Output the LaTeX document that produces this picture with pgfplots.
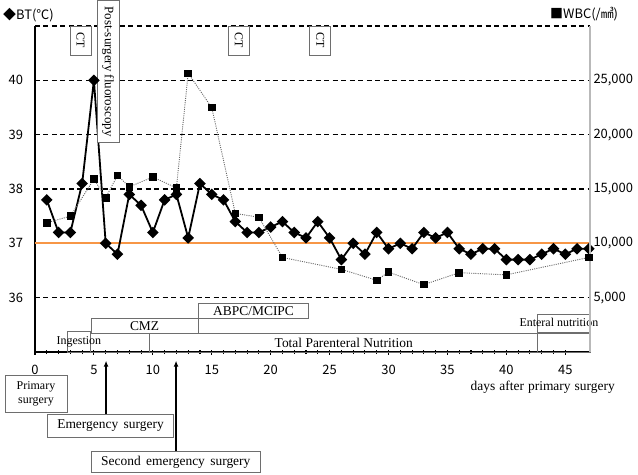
\documentclass[border=0pt]{standalone}
\usepackage{fontspec}
\setmainfont{Liberation Serif}
\newfontfamily\cjk{Noto Sans CJK JP}
\usepackage{pgfplots}
\pgfplotsset{compat=1.18}
\usetikzlibrary{arrows.meta}
\definecolor{orng}{RGB}{247,150,70}
\definecolor{bxc}{RGB}{110,110,110}
\definecolor{axg}{RGB}{185,185,185}
\newcommand\annf{\fontsize{13.5}{15}\selectfont}
\newcommand\smf{\fontsize{12}{13}\selectfont}
\begin{document}
\begin{tikzpicture}
\useasboundingbox (-35bp,-123bp) rectangle (603bp,352bp);
\begin{axis}[
  at={(0,0)}, anchor=south west, scale only axis,
  width=555bp, height=326bp,
  xmin=0, xmax=47.1, ymin=35, ymax=41,
  axis x line*=bottom, axis y line*=left,
  axis line style={line width=1.6bp, black, -},
  xtick={0,5,...,45}, minor x tick num=4,
  ytick={36,37,38,39,40,41}, yticklabels={36,37,38,39,40,{}},
  ytick style={draw=none},
  tick align=center, major tick length=5bp, minor tick length=4bp,
  x tick style={line width=1.1bp, black},
  ymajorgrids, grid style={black, line width=1.1bp, dash pattern=on 5bp off 3.5bp},
  tick label style={font=\cjk\fontsize{13}{14}\selectfont},
  /pgf/number format/assume math mode=true,
  xticklabel style={yshift=-7bp},
  yticklabel style={xshift=-6bp},
  clip=false,
]
\addplot[orng, line width=1.8bp, no marks] coordinates {(0,37) (47.1,37)};
\addplot[black, line width=1.8bp, mark=square*, mark size=3.2bp, mark options={rotate=45, solid}] coordinates {
(1,37.8) (2,37.2) (3,37.2) (4,38.1) (5,40.0) (6,37.0) (7,36.8) (8,37.9) (9,37.7) (10,37.2)
(11,37.8) (12,37.9) (13,37.1) (14,38.1) (15,37.9) (16,37.8) (17,37.4) (18,37.2) (19,37.2) (20,37.3)
(21,37.4) (22,37.2) (23,37.1) (24,37.4) (25,37.1) (26,36.7) (27,37.0) (28,36.8) (29,37.2) (30,36.9)
(31,37.0) (32,36.9) (33,37.2) (34,37.1) (35,37.2) (36,36.9) (37,36.8) (38,36.9) (39,36.9) (40,36.7)
(41,36.7) (42,36.7) (43,36.8) (44,36.9) (45,36.8) (46,36.9) (47,36.9)};
% top annotation boxes
\node[draw=bxc, fill=white, rotate=-90, minimum width=29bp, minimum height=21bp, inner sep=0pt, font=\smf] at (axis cs:3.86,40.735) {CT};
\node[draw=bxc, fill=white, rotate=-90, minimum width=29bp, minimum height=21bp, inner sep=0pt, font=\smf] at (axis cs:17.3,40.735) {CT};
\node[draw=bxc, fill=white, rotate=-90, minimum width=29bp, minimum height=21bp, inner sep=0pt, font=\smf] at (axis cs:24.2,40.735) {CT};
\node[draw=bxc, fill=white, rotate=-90, anchor=west, minimum height=22bp, inner xsep=6bp, inner ysep=0pt, font=\fontsize{13}{13}\selectfont] at (axis cs:6.2,41.476) {Post-surgery fluoroscopy};
% bottom bars
\draw[bxc, line width=0.9bp, fill=white] (axis cs:13.9,35.61) rectangle (axis cs:23.2,35.89);
\node[font=\annf] at (axis cs:18.55,35.75) {ABPC/MCIPC};
\draw[bxc, line width=0.9bp, fill=white] (axis cs:4.75,35.34) rectangle (axis cs:13.9,35.61);
\node[font=\annf] at (axis cs:9.3,35.47) {CMZ};
\draw[bxc, line width=0.9bp] (axis cs:2.75,35.0) rectangle (axis cs:4.7,35.37);
\draw[bxc, line width=0.9bp] (axis cs:4.7,35.0) rectangle (axis cs:9.7,35.34);
\node[font=\smf] at (axis cs:3.73,35.18) {Ingestion};
\draw[bxc, line width=0.9bp] (axis cs:9.7,35.0) rectangle (axis cs:42.64,35.34);
\node[font=\annf] at (axis cs:26.2,35.16) {Total Parenteral Nutrition};
\draw[bxc, line width=0.9bp] (axis cs:42.64,35.36) rectangle (axis cs:47.1,35.7);
\draw[bxc, line width=0.9bp] (axis cs:42.64,35.0) rectangle (axis cs:47.1,35.34);
\node[font=\smf] at (axis cs:44.46,35.54) {Enteral nutrition};
% below axis
\draw[bxc, line width=0.9bp, fill=white] (axis cs:-2.55,34.566) rectangle (axis cs:2.72,33.896);
\node[font=\smf, align=center, inner sep=0pt] at (axis cs:0.085,34.23) {Primary\\[1pt]surgery};
\draw[bxc, line width=0.9bp, fill=white] (axis cs:1.08,33.859) rectangle (axis cs:11.74,33.42);
\node[font=\annf] at (axis cs:6.41,33.64) {Emergency\hspace{0.4em}surgery};
\draw[bxc, line width=0.9bp, fill=white] (axis cs:4.81,33.174) rectangle (axis cs:19.1,32.778);
\node[font=\annf] at (axis cs:11.95,32.976) {Second\hspace{0.4em}emergency\hspace{0.4em}surgery};
\draw[black, line width=1.3bp, -{Latex[length=6bp,width=5bp]}] (axis cs:6.03,33.859) -- (axis cs:6.03,34.84);
\draw[black, line width=1.3bp, -{Latex[length=6bp,width=5bp]}] (axis cs:11.97,33.174) -- (axis cs:11.97,34.84);
\node[anchor=east, font=\annf] at (axis cs:49.5,34.36) {days\hspace{0.3em}after\hspace{0.3em}primary\hspace{0.3em}surgery};
% top labels
\node[anchor=west, inner sep=0pt, font=\cjk\fontsize{13}{13}\selectfont] at (axis cs:-2.72,41.2) {◆BT(℃)};
\node[anchor=east, inner sep=0pt, font=\cjk\fontsize{13}{13}\selectfont] at (axis cs:49.5,41.22) {■WBC(/㎣)};
\end{axis}
\begin{axis}[
  at={(0,0)}, anchor=south west, scale only axis,
  width=555bp, height=326bp,
  xmin=0, xmax=47.1, ymin=0, ymax=30000,
  axis y line*=right, axis x line=none,
  axis line style={axg, line width=1.4bp, -},
  ytick={5000,10000,15000,20000,25000},
  ytick style={draw=none},
  scaled y ticks=false,
  yticklabel={\pgfmathprintnumber[fixed,1000 sep={,},assume math mode=true]{\tick}},
  tick label style={font=\cjk\fontsize{13}{14}\selectfont},
  clip=false,
]
\addplot[black!60, line width=0.9bp, dash pattern=on 1bp off 1.2bp, mark=square*, mark size=3.3bp, mark options={solid, black, fill=black}] coordinates {
(1,11900) (3,12500) (5,15900) (6,14200) (7,16250) (8,15200) (10,16100) (12,15100) (13,25650)
(15,22500) (17,12750) (19,12400) (21,8700) (26,7600) (29,6600) (30,7350) (33,6200) (36,7300)
(40,7100) (47,8700)};
\end{axis}
\end{tikzpicture}
\end{document}
